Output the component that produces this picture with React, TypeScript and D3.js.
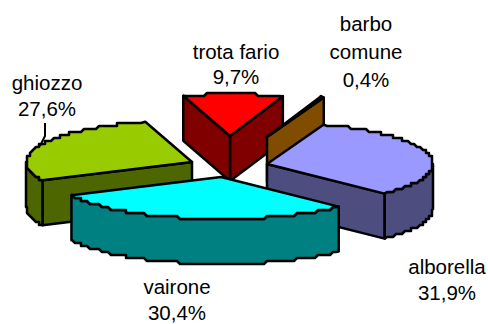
import React from 'react';
import * as d3 from 'd3';

const categories = ['alborella', 'vairone', 'ghiozzo', 'trota fario', 'barbo comune'];
const shares = [31.9, 30.4, 27.6, 9.7, 0.4];

const topColors = ['#9999ff', '#00ffff', '#99cc00', '#ff0000', '#996600'];
const sideColors = ['#4d4d80', '#008080', '#4d6600', '#800000', '#804d00'];

// where each exploded slice has its tip, paint order and label placement
const tips = [[267, 164], [221, 177], [192, 162], [230, 136], [267, 137]];
const paintOrder = [3, 4, 2, 0, 1];
const labelLines = [['alborella'], ['vairone'], ['ghiozzo'], ['trota fario'], ['barbo', 'comune']];
const labelX = [447, 177, 47, 236, 366];
const labelY = [274, 294, 90, 59, 31];
const lineGap = [26, 26, 26, 25, 28];

const width = 488;
const height = 324;
const rx = 166;
const ry = 42;
const depth = 45;
const stepSize = 3;
const startDeg = 20;

const rad = (deg: number) => (deg * Math.PI) / 180;
const percent = (v: number) => d3.format('.1f')(v).replace('.', ',') + '%';

const pie = d3
  .pie<number>()
  .sort(null)
  .startAngle(rad(startDeg))
  .endAngle(rad(startDeg + 360));

const line = d3.line();

// the old renderer drew its curves in little stairs, snap the rim to a coarse grid
const snap = (v: number) => Math.round(v / stepSize) * stepSize;

const rimPoints = (tip: number[], a0: number, a1: number, drop = 0): [number, number][] => {
  const n = Math.max(2, Math.ceil(Math.abs(a1 - a0) / rad(1)));
  return d3.range(n + 1).map((i) => {
    const a = a0 + ((a1 - a0) * i) / n;
    const x = tip[0] + rx * Math.sin(a);
    const y = tip[1] - ry * Math.cos(a);
    const onEnd = i === 0 || i === n;
    return [onEnd ? x : snap(x), (onEnd ? y : snap(y)) + drop];
  });
};

const radialFace = (tip: number[], a: number) => {
  const x = tip[0] + rx * Math.sin(a);
  const y = tip[1] - ry * Math.cos(a);
  return line([
    [tip[0], tip[1]],
    [x, y],
    [x, y + depth],
    [tip[0], tip[1] + depth],
  ]) + 'Z';
};

const App = () => {
  const arcs = pie(shares);

  return (
    <svg
      width={width}
      height={height}
      style={{ position: 'absolute', left: 0, top: 0, background: '#fff' }}
    >
      <g stroke="#000" strokeWidth={2.5} strokeLinejoin="round">
        {paintOrder.map((i) => {
          const d = arcs[i];
          const tip = tips[i];
          const { startAngle: a0, endAngle: a1 } = d;
          const top = line([[tip[0], tip[1]], ...rimPoints(tip, a0, a1)]) + 'Z';

          // the outer wall only shows on the front half of the ellipse
          const w0 = Math.max(a0, rad(90));
          const w1 = Math.min(a1, rad(270));
          const wall =
            w1 > w0
              ? line([
                  ...rimPoints(tip, w0, w1),
                  ...rimPoints(tip, w0, w1, depth).reverse(),
                ]) + 'Z'
              : null;

          return (
            <g key={categories[i]}>
              {Math.sin(a1) > 0 && <path d={radialFace(tip, a1)} fill={sideColors[i]} />}
              {Math.sin(a0) < 0 && <path d={radialFace(tip, a0)} fill={sideColors[i]} />}
              {wall && <path d={wall} fill={sideColors[i]} />}
              <path d={top} fill={topColors[i]} />
            </g>
          );
        })}
      </g>

      <path d="M45,123V136L40,146" fill="none" stroke="#000" strokeWidth={2} />

      <g fontFamily="'Liberation Sans', Arial, sans-serif" fontSize={20.5} fill="#000" textAnchor="middle">
        {categories.map((name, i) => {
          const lines = labelLines[i];
          return (
            <text key={name} x={labelX[i]} y={labelY[i]}>
              {lines.map((t, j) => (
                <tspan key={t} x={labelX[i]} dy={j === 0 ? 0 : lineGap[i]}>
                  {t}
                </tspan>
              ))}
              <tspan x={labelX[i]} dy={lineGap[i]}>
                {percent(shares[i])}
              </tspan>
            </text>
          );
        })}
      </g>
    </svg>
  );
};

export default App;
